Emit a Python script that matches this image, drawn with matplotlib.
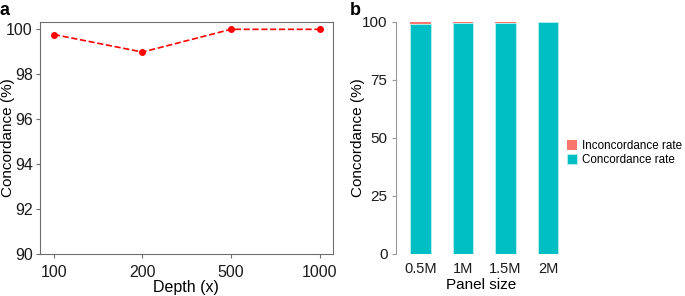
import numpy as np
import matplotlib.pyplot as plt

plt.rcParams['font.family'] = ['Liberation Sans', 'DejaVu Sans']

# panel a data
depth_labels = ['100', '200', '500', '1000']
depth_conc = [99.75, 98.97, 99.98, 99.98]
depth_err = [0.08, 0.08, 0.08, 0.08]

# panel b data
panel_labels = ['0.5M', '1M', '1.5M', '2M']
panel_conc = [98.9, 99.6, 99.7, 100.0]
panel_inconc = [1.1, 0.4, 0.3, 0.0]

fig = plt.figure(figsize=(6.85, 2.96), dpi=100)

# --- panel a ---
ax1 = fig.add_axes([0.058, 0.142, 0.428, 0.784])
x = np.arange(len(depth_labels))
ax1.errorbar(x, depth_conc, yerr=depth_err, color='red', linestyle='--', linewidth=1.2,
             marker='o', markersize=4, capsize=0, elinewidth=2.2)
ax1.set_xticks(x)
ax1.set_xticklabels(depth_labels)
ax1.set_xlim(-0.16, 3.15)
ax1.set_ylim(90, 100.31)
ax1.set_yticks([90, 92, 94, 96, 98, 100])
for s in ax1.spines.values():
    s.set_color('#6e6e6e')
ax1.tick_params(colors='#6e6e6e', labelcolor='#1a1a1a', labelsize=11.5, length=3, pad=2)
ax1.tick_params(axis='x', pad=5)
ax1.set_xlabel('Depth (x)', fontsize=11.5, labelpad=0)
ax1.set_ylabel('Concordance (%)', fontsize=11)
ax1.yaxis.set_label_coords(-0.083, 0.5)
fig.text(0.0, 0.95, 'a', fontsize=13, fontweight='bold')

# --- panel b ---
ax2 = fig.add_axes([0.578, 0.142, 0.25, 0.784])
xb = np.arange(len(panel_labels))
ax2.bar(xb, panel_conc, width=0.49, color='#00BFC4', edgecolor='#b8eef0', linewidth=0.6,
        label='Concordance rate')
ax2.bar(xb, panel_inconc, width=0.49, bottom=panel_conc, color='#F8766D',
        label='Inconcordance rate')
ax2.set_xticks(xb)
ax2.set_xticklabels(panel_labels)
ax2.set_xlim(-0.58, 3.45)
ax2.set_ylim(0, 100)
ax2.set_yticks([0, 25, 50, 75, 100])
for k in ['top', 'right', 'bottom']:
    ax2.spines[k].set_visible(False)
ax2.spines['left'].set_color('#9a9a9a')
ax2.tick_params(axis='y', colors='#9a9a9a', labelcolor='#1a1a1a', labelsize=11, length=3, pad=3)
ax2.tick_params(axis='x', length=0, labelsize=10.5, labelcolor='#1a1a1a', pad=6)
ax2.set_xlabel('Panel size', fontsize=11, labelpad=1)
ax2.set_ylabel('Concordance (%)', fontsize=11)
ax2.yaxis.set_label_coords(-0.18, 0.5)
h, l = ax2.get_legend_handles_labels()
ax2.legend(h[::-1], l[::-1], loc='center left', bbox_to_anchor=(0.97, 0.435), frameon=False,
           fontsize=8.4, handlelength=0.9, handleheight=0.9, handletextpad=0.4,
           labelspacing=0.15, borderaxespad=0)
fig.text(0.51, 0.95, 'b', fontsize=13, fontweight='bold')

fig.savefig('out.png', dpi=100)
